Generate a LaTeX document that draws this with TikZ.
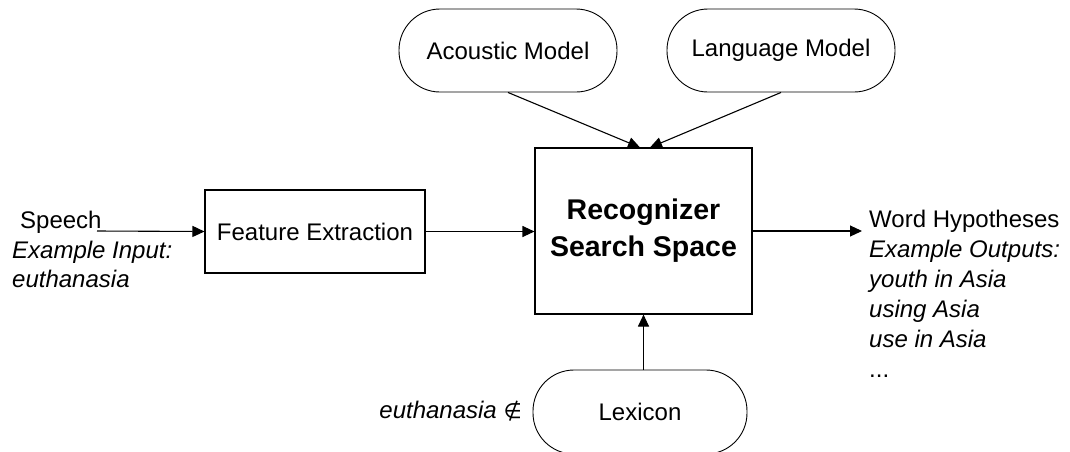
\documentclass[tikz,border=0pt]{standalone}
\usepackage{fontspec}
\setmainfont{Liberation Sans}
\newfontfamily\symfont{DejaVu Sans}
\usetikzlibrary{arrows.meta}
\begin{document}
\begin{tikzpicture}[x=1pt,y=-1pt,
  every node/.style={font=\fontsize{24}{30}\selectfont},
  box/.style={draw, line width=1.1pt, inner sep=0pt},
  pill/.style={draw, line width=0.9pt, rounded corners=41pt, inner sep=0pt},
  arr/.style={line width=1.1pt, -{Triangle[length=12pt,width=11pt]}},
  lbl/.style={anchor=base west, inner sep=0pt},
  it/.style={lbl, font=\fontsize{24}{30}\selectfont\itshape}]
\clip (0,0) rectangle (1070,451);
\fill[white] (0,0) rectangle (1070,451);

\node[pill, minimum width=218pt, minimum height=83pt] (am) at (508,50.5) {Acoustic Model};
\node[pill, minimum width=228pt, minimum height=83pt] (lm) at (781,50.5) {Language Model};
\node[box, minimum width=217pt, minimum height=166pt, align=center,
      font=\fontsize{28.5}{37}\selectfont\bfseries] (rs) at (643.5,231) {Recognizer\\Search Space};
\node[box, minimum width=220pt, minimum height=83pt] (fe) at (315,231.5) {Feature Extraction};
\node[pill, minimum width=214pt, minimum height=84pt] (lex) at (640,412) {Lexicon};

\coordinate (sp) at (97,231);
\coordinate (wo) at (862,231);
\draw[arr] (sp) -- (fe.west);
\draw[arr] (fe.east) -- (rs.west |- fe.east);
\draw[arr] (rs.east) -- (wo);
\draw[arr] (am.south) -- ([xshift=-3.5pt]rs.north);
\draw[arr] (lm.south) -- ([xshift=6.5pt]rs.north);
\draw[arr] (rs.south |- lex.north) -- (rs.south);

\node[lbl] (t1) at (20,228) {Speech};
\node[it] (t2) at (12,258) {Example Input:};
\node[it] (t3) at (12,287.5) {euthanasia};
\node[it, anchor=base east] (t4) at (522,418) {euthanasia {\symfont\fontsize{21}{30}\selectfont\itshape ∉}};

\node[lbl] (o1) at (869,227.5) {Word Hypotheses};
\node[it] (o2) at (869,257.5) {Example Outputs:};
\node[it] (o3) at (869,287.5) {youth in Asia};
\node[it] (o4) at (869,317.5) {using Asia};
\node[it] (o5) at (869,347.5) {use in Asia};
\node[lbl] (o6) at (869,377.5) {...};
\end{tikzpicture}
\end{document}
